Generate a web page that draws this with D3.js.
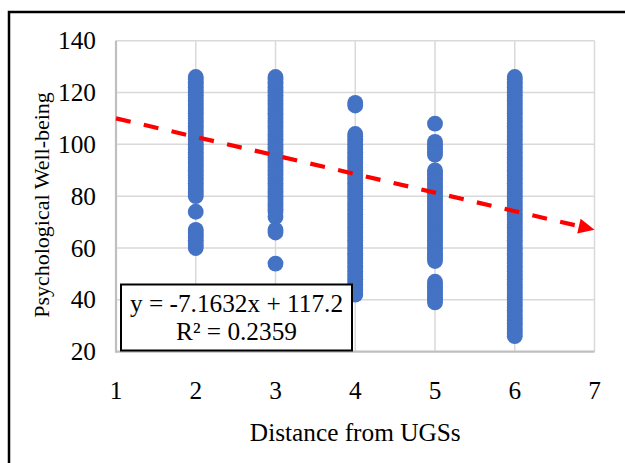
<!DOCTYPE html>
<html>
<head>
<meta charset="utf-8">
<script src="https://cdn.jsdelivr.net/npm/d3@7/dist/d3.min.js"></script>
<style>
  html, body { margin: 0; padding: 0; background: #fff; }
  svg { display: block; }
  text { font-family: "Liberation Serif", "Times New Roman", serif; fill: #000; }
</style>
</head>
<body>
<svg id="chart" width="625" height="463"></svg>
<script>
// Distance categories and the well-being scores recorded at each one
const distances = [2, 3, 4, 5, 6];
const scoresAt2 = [126,125,124,123,122,121,120,119,118,117,116,115,114,113,112,111,110,109,108,107,106,105,104,103,102,101,100,99,98,97,96,95,94,93,92,91,90,89,88,87,86,85,84,83,82,81,80,74,67,66,65,64,63,62,61,60];
const scoresAt3 = [126,125,124,123,122,121,120,119,118,117,116,115,114,113,112,111,110,109,108,107,106,105,104,103,102,101,100,99,98,97,96,95,94,93,92,91,90,89,88,87,86,85,84,83,82,81,80,79,78,77,76,75,74,72,67,66,54];
const scoresAt4 = [116,115,104,103,102,101,100,99,98,97,96,95,94,93,92,91,90,89,88,87,86,85,84,83,82,81,80,79,78,77,76,75,74,73,72,71,70,69,68,67,66,65,64,63,62,61,60,59,58,57,56,55,54,53,52,51,50,49,48,47,46,45,44,43,42];
const scoresAt5 = [108,101,100,99,98,97,96,90,89,88,87,86,85,84,83,82,81,80,79,78,77,76,75,74,73,72,71,70,69,68,67,66,65,64,63,62,61,60,59,58,57,56,55,47,46,45,44,43,42,41,40,39];
const scoresAt6 = [126,125,124,123,122,121,120,119,118,117,116,115,114,113,112,111,110,109,108,107,106,105,104,103,102,101,100,99,98,97,96,95,94,93,92,91,90,89,88,87,86,85,84,83,82,81,80,79,78,77,76,75,74,73,72,71,70,69,68,67,66,65,64,63,62,61,60,59,58,57,56,55,54,53,52,51,50,49,48,47,46,45,44,43,42,41,40,39,38,37,36,35,34,33,32,31,30,29,28,27,26];
const scoreGroups = [scoresAt2, scoresAt3, scoresAt4, scoresAt5, scoresAt6];

// Axis ticks
const xTickValues = [1, 2, 3, 4, 5, 6, 7];
const yTickValues = [20, 40, 60, 80, 100, 120, 140];

// Linear trend line fitted to the scores
const trendSlope = -7.1632;
const trendIntercept = 117.2;
const rSquared = 0.2359;
const trendRange = [1, 7];

const xTitle = "Distance from UGSs";
const yTitle = "Psychological Well-being";

const svg = d3.select("#chart");
const fontSize = 25.3;

const x = d3.scaleLinear().domain([1, 7]).range([116, 594.5]);
const y = d3.scaleLinear().domain([20, 140]).range([351.7, 40.7]);

// Outer frame
svg.append("rect")
  .attr("x", 9).attr("y", 12)
  .attr("width", 700).attr("height", 600)
  .attr("fill", "none").attr("stroke", "#000").attr("stroke-width", 2.5);

// Gridlines
const grid = svg.append("g");
grid.selectAll("line.h").data(yTickValues.slice(1)).join("line")
  .attr("class", "h")
  .attr("x1", x(1)).attr("x2", x(7))
  .attr("y1", d => y(d)).attr("y2", d => y(d))
  .attr("stroke", "#d9d9d9").attr("stroke-width", 1.5);
grid.selectAll("line.v").data(xTickValues.slice(1)).join("line")
  .attr("class", "v")
  .attr("x1", d => x(d)).attr("x2", d => x(d))
  .attr("y1", y(20)).attr("y2", y(140))
  .attr("stroke", "#d9d9d9").attr("stroke-width", 1.5);

// Axis lines
svg.append("line")
  .attr("x1", x(1)).attr("x2", x(1)).attr("y1", y(20) + 1).attr("y2", y(140))
  .attr("stroke", "#bfbfbf").attr("stroke-width", 2.2);
svg.append("line")
  .attr("x1", x(1)).attr("x2", x(7)).attr("y1", y(20)).attr("y2", y(20))
  .attr("stroke", "#bfbfbf").attr("stroke-width", 2.2);

// Tick labels
svg.append("g").selectAll("text").data(yTickValues).join("text")
  .attr("x", 96).attr("y", d => y(d))
  .attr("dy", "0.34em")
  .attr("text-anchor", "end")
  .style("font-size", fontSize + "px")
  .text(d => d);
svg.append("g").selectAll("text").data(xTickValues).join("text")
  .attr("x", d => x(d)).attr("y", 399)
  .attr("text-anchor", "middle")
  .style("font-size", fontSize + "px")
  .text(d => d);

// Axis titles
svg.append("text")
  .attr("x", (x(1) + x(7)) / 2).attr("y", 441)
  .attr("text-anchor", "middle")
  .style("font-size", fontSize + "px")
  .text(xTitle);
svg.append("text")
  .attr("transform", `translate(49, 205) rotate(-90)`)
  .attr("text-anchor", "middle")
  .style("font-size", "22px")
  .text(yTitle);

// Scatter points
const points = distances.flatMap((d, i) => scoreGroups[i].map(v => ({ d, v })));
svg.append("g").selectAll("circle").data(points).join("circle")
  .attr("cx", p => x(p.d))
  .attr("cy", p => y(p.v))
  .attr("r", 7.9)
  .attr("fill", "#4472c4");

// Trend line with arrow head
const f = t => trendSlope * t + trendIntercept;
const x0 = x(trendRange[0]), y0 = y(f(trendRange[0]));
const x1 = x(trendRange[1]), y1 = y(f(trendRange[1]));
const len = Math.hypot(x1 - x0, y1 - y0);
const ux = (x1 - x0) / len, uy = (y1 - y0) / len;
const headLen = 16, headHalf = 7.5;
const bx = x1 - ux * headLen, by = y1 - uy * headLen;
svg.append("line")
  .attr("x1", x0).attr("y1", y0).attr("x2", bx + ux * 2).attr("y2", by + uy * 2)
  .attr("stroke", "#ff0000").attr("stroke-width", 4.2)
  .attr("stroke-dasharray", "15,13.5");
svg.append("path")
  .attr("d", `M${x1},${y1} L${bx - uy * headHalf},${by + ux * headHalf} L${bx + uy * headHalf},${by - ux * headHalf} Z`)
  .attr("fill", "#ff0000");

// Equation box
const box = svg.append("g");
box.append("rect")
  .attr("x", 121).attr("y", 284.5)
  .attr("width", 231).attr("height", 66)
  .attr("fill", "#fff").attr("stroke", "#000").attr("stroke-width", 2);
box.append("text")
  .attr("x", 236.5).attr("y", 311.5)
  .attr("text-anchor", "middle")
  .style("font-size", fontSize + "px")
  .text(`y = ${trendSlope}x + ${trendIntercept}`);
box.append("text")
  .attr("x", 236.5).attr("y", 340)
  .attr("text-anchor", "middle")
  .style("font-size", fontSize + "px")
  .text(`R² = ${rSquared}`);
</script>
</body>
</html>
